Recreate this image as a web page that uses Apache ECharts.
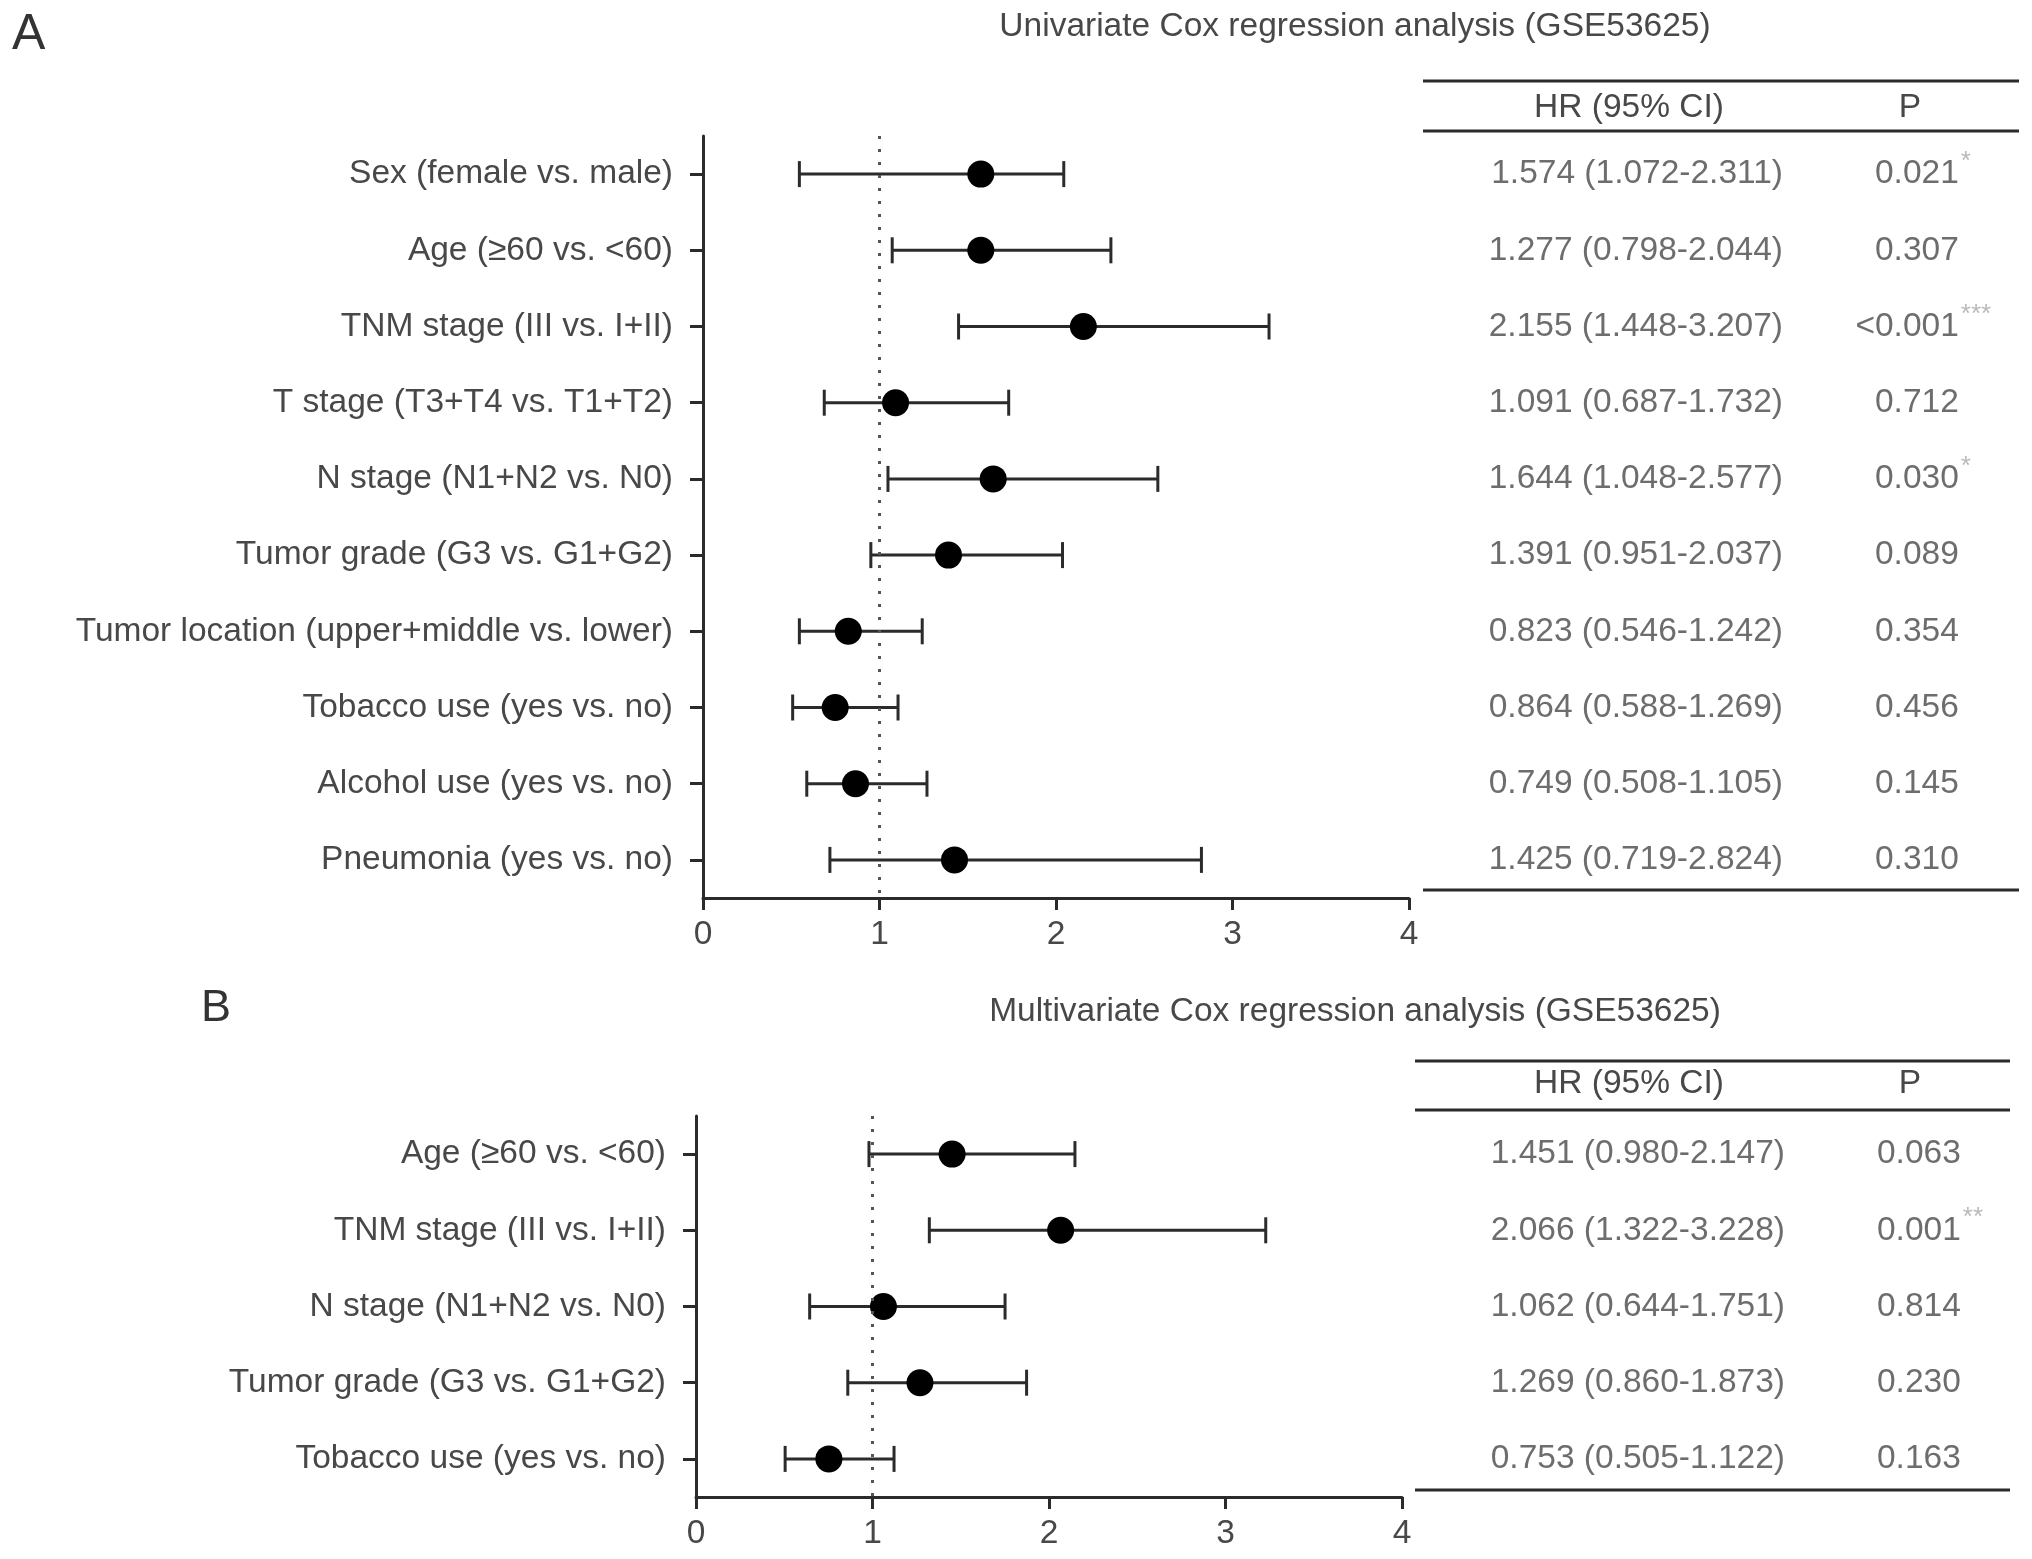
<!DOCTYPE html>
<html lang="en">
<head>
    <meta charset="UTF-8">
    <title>Cox regression forest plot</title>
    <script src="https://cdn.jsdelivr.net/npm/echarts@6/dist/echarts.min.js"></script>
    <style>
        html, body { margin: 0; padding: 0; background: #fff; }
    </style>
</head>
<body>

    <div id="ForestViz" style="width: 2032px; height: 1559px"></div>

    <script>
        // ---- data ----
        var uniLabels = ['Sex (female vs. male)', 'Age (\u226560 vs. <60)', 'TNM stage (III vs. I+II)',
            'T stage (T3+T4 vs. T1+T2)', 'N stage (N1+N2 vs. N0)', 'Tumor grade (G3 vs. G1+G2)',
            'Tumor location (upper+middle vs. lower)', 'Tobacco use (yes vs. no)',
            'Alcohol use (yes vs. no)', 'Pneumonia (yes vs. no)'];
        // plotted points as drawn in the figure
        var uniHR = [1.574, 1.574, 2.155, 1.091, 1.644, 1.391, 0.823, 0.749, 0.864, 1.425];
        var uniLow = [0.546, 1.072, 1.448, 0.687, 1.048, 0.951, 0.546, 0.508, 0.588, 0.719];
        var uniHigh = [2.044, 2.311, 3.207, 1.732, 2.577, 2.037, 1.242, 1.105, 1.269, 2.824];
        // table columns
        var uniHRText = ['1.574 (1.072-2.311)', '1.277 (0.798-2.044)', '2.155 (1.448-3.207)',
            '1.091 (0.687-1.732)', '1.644 (1.048-2.577)', '1.391 (0.951-2.037)',
            '0.823 (0.546-1.242)', '0.864 (0.588-1.269)', '0.749 (0.508-1.105)', '1.425 (0.719-2.824)'];
        var uniP = ['0.021', '0.307', '<0.001', '0.712', '0.030', '0.089', '0.354', '0.456', '0.145', '0.310'];
        var uniStars = ['*', '', '***', '', '*', '', '', '', '', ''];

        var multiLabels = ['Age (\u226560 vs. <60)', 'TNM stage (III vs. I+II)', 'N stage (N1+N2 vs. N0)',
            'Tumor grade (G3 vs. G1+G2)', 'Tobacco use (yes vs. no)'];
        var multiHR = [1.451, 2.066, 1.062, 1.269, 0.753];
        var multiLow = [0.980, 1.322, 0.644, 0.860, 0.505];
        var multiHigh = [2.147, 3.228, 1.751, 1.873, 1.122];
        var multiHRText = ['1.451 (0.980-2.147)', '2.066 (1.322-3.228)', '1.062 (0.644-1.751)',
            '1.269 (0.860-1.873)', '0.753 (0.505-1.122)'];
        var multiP = ['0.063', '0.001', '0.814', '0.230', '0.163'];
        var multiStars = ['', '**', '', '', ''];

        var titles = ['Univariate Cox regression analysis (GSE53625)', 'Multivariate Cox regression analysis (GSE53625)'];
        var headers = ['HR (95% CI)', 'P'];
        var xTicks = [0, 1, 2, 3, 4];

        // ---- styling ----
        var FONT = "'Liberation Sans', Arial, sans-serif";
        var FS = 33.5;
        var TXT = '#484848';
        var LINE = '#2b2b2b';

        var chart = echarts.init(document.getElementById('ForestViz'));

        function plotAxes(gridIndex, labels) {
            var x = {
                gridIndex: gridIndex,
                type: 'value',
                min: xTicks[0],
                max: xTicks[xTicks.length - 1],
                interval: 1,
                splitLine: { show: false },
                axisLine: { show: true, lineStyle: { color: LINE, width: 3 } },
                axisTick: { show: true, length: 12, lineStyle: { color: LINE, width: 3 } },
                axisLabel: { color: TXT, fontSize: FS, fontFamily: FONT, margin: 20 }
            };
            var y = {
                gridIndex: gridIndex,
                type: 'category',
                inverse: true,
                data: labels,
                axisLine: { show: true, lineStyle: { color: LINE, width: 3 } },
                axisTick: { show: true, alignWithLabel: true, length: 13, lineStyle: { color: LINE, width: 3 } },
                axisLabel: { color: TXT, fontSize: FS, fontFamily: FONT, margin: 30 }
            };
            return [x, y];
        }

        function tableAxes(gridIndex, labels) {
            return [{
                gridIndex: gridIndex, type: 'value', min: 0, max: 1, show: false
            }, {
                gridIndex: gridIndex, type: 'category', inverse: true, data: labels, show: false
            }];
        }

        function errorBarSeries(axisIndex, labels, low, high) {
            var data = labels.map(function (name, i) { return [low[i], high[i], i]; });
            return {
                type: 'custom',
                xAxisIndex: axisIndex,
                yAxisIndex: axisIndex,
                encode: { x: [0, 1], y: 2 },
                data: data,
                z: 3,
                renderItem: function (params, api) {
                    var idx = api.value(2);
                    var p0 = api.coord([api.value(0), idx]);
                    var p1 = api.coord([api.value(1), idx]);
                    var cap = 13;
                    var st = { stroke: LINE, lineWidth: 3 };
                    return {
                        type: 'group',
                        children: [
                            { type: 'line', shape: { x1: p0[0], y1: p0[1], x2: p1[0], y2: p1[1] }, style: st },
                            { type: 'line', shape: { x1: p0[0], y1: p0[1] - cap, x2: p0[0], y2: p0[1] + cap }, style: st },
                            { type: 'line', shape: { x1: p1[0], y1: p1[1] - cap, x2: p1[0], y2: p1[1] + cap }, style: st }
                        ]
                    };
                }
            };
        }

        function pointSeries(axisIndex, labels, hr) {
            return {
                type: 'scatter',
                xAxisIndex: axisIndex,
                yAxisIndex: axisIndex,
                symbol: 'circle',
                symbolSize: 27,
                itemStyle: { color: '#000', opacity: 1 },
                z: 4,
                data: labels.map(function (name, i) { return [hr[i], name]; }),
                markLine: {
                    silent: true,
                    symbol: 'none',
                    label: { show: false },
                    lineStyle: { color: '#555', type: [3, 10], width: 3 },
                    data: [{ xAxis: 1 }]
                }
            };
        }

        function textSeries(axisIndex, labels, texts, xPos, side, style) {
            return {
                type: 'scatter',
                xAxisIndex: axisIndex,
                yAxisIndex: axisIndex,
                symbolSize: 0,
                silent: true,
                data: labels.map(function (name, i) { return [xPos, name, texts[i]]; }),
                label: Object.assign({
                    show: true,
                    position: side,
                    distance: 0,
                    fontFamily: FONT,
                    color: TXT,
                    fontSize: FS,
                    formatter: function (p) { return p.value[2]; }
                }, style || {})
            };
        }

        var axA = plotAxes(0, uniLabels);
        var axB = plotAxes(1, multiLabels);
        var tbA = tableAxes(2, uniLabels);
        var tbB = tableAxes(3, multiLabels);

        // table column anchors (fraction of table width)
        var HR_RIGHT = 0.604, P_RIGHT = 0.899;
        var starStyle = { color: '#a8a8a8', fontSize: 26, offset: [2, -12] };

        function hline(x1, x2, y) {
            return { type: 'line', shape: { x1: x1, y1: y, x2: x2, y2: y }, style: { stroke: LINE, lineWidth: 3 } };
        }
        function txt(x, y, s, size, align) {
            return {
                type: 'text', x: x, y: y,
                style: { text: s, fontSize: size, fontFamily: FONT, fill: TXT, align: align || 'center', verticalAlign: 'middle' }
            };
        }

        var forestOption = {
            backgroundColor: '#fff',
            animation: false,
            grid: [
                { left: 703, top: 136, width: 706, height: 762 },
                { left: 696, top: 1116, width: 706, height: 381 },
                { left: 1423, top: 136, width: 596, height: 762 },
                { left: 1425, top: 1116, width: 596, height: 381 }
            ],
            xAxis: [axA[0], axB[0], tbA[0], tbB[0]],
            yAxis: [axA[1], axB[1], tbA[1], tbB[1]],
            series: [
                errorBarSeries(0, uniLabels, uniLow, uniHigh),
                pointSeries(0, uniLabels, uniHR),
                errorBarSeries(1, multiLabels, multiLow, multiHigh),
                pointSeries(1, multiLabels, multiHR),
                textSeries(2, uniLabels, uniHRText, HR_RIGHT, 'left'),
                textSeries(2, uniLabels, uniP, P_RIGHT, 'left'),
                textSeries(2, uniLabels, uniStars, P_RIGHT, 'right', starStyle),
                textSeries(3, multiLabels, multiHRText, HR_RIGHT, 'left'),
                textSeries(3, multiLabels, multiP, P_RIGHT, 'left'),
                textSeries(3, multiLabels, multiStars, P_RIGHT, 'right', starStyle)
            ],
            graphic: [
                { type: 'text', left: 12, top: 10, style: { text: 'A', fontSize: 50, fontFamily: FONT, fill: '#333' } },
                { type: 'text', left: 201, top: 986, style: { text: 'B', fontSize: 45, fontFamily: FONT, fill: '#333' } },
                txt(1355, 27, titles[0], FS),
                txt(1355, 1012, titles[1], FS),
                hline(1423, 2019, 81), hline(1423, 2019, 131), hline(1423, 2019, 890),
                hline(1415, 2010, 1061), hline(1415, 2010, 1110), hline(1415, 2010, 1490),
                txt(1629, 108, headers[0], FS), txt(1910, 108, headers[1], FS),
                txt(1629, 1084, headers[0], FS), txt(1910, 1084, headers[1], FS)
            ]
        };

        chart.setOption(forestOption);
    </script>

</body>
</html>
